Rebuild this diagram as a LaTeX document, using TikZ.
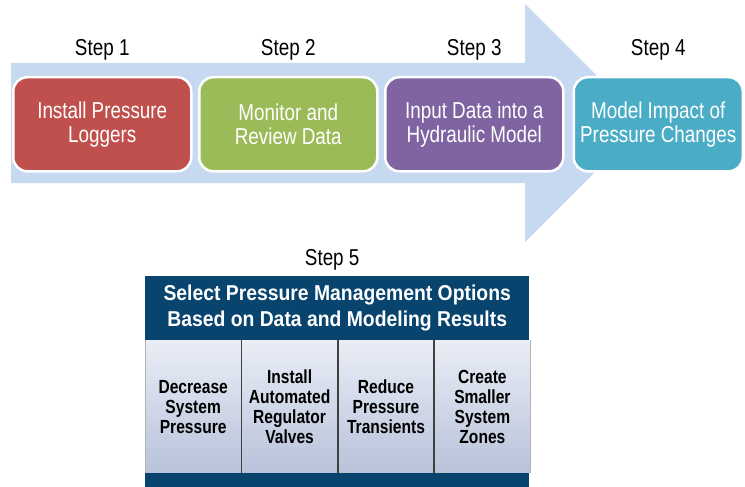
\documentclass[tikz,border=0pt]{standalone}
\usepackage{fontspec}
\setmainfont{Liberation Sans}[FakeStretch=0.82]
\newfontfamily\headfont{Liberation Sans}[FakeStretch=0.9]
\usepackage{xcolor}
\usetikzlibrary{positioning}
\definecolor{loggerred}{RGB}{192,80,77}
\definecolor{monitorgreen}{RGB}{155,187,89}
\definecolor{modelpurple}{RGB}{128,100,162}
\definecolor{impactteal}{RGB}{75,172,198}
\definecolor{arrowblue}{RGB}{198,217,241}
\definecolor{panelnavy}{RGB}{8,68,110}
\definecolor{celltop}{RGB}{233,237,246}
\definecolor{cellbottom}{RGB}{184,195,218}

\begin{document}
\begin{tikzpicture}[
    x=1pt, y=-1pt,
    node distance=5.5pt and 5.5pt,
    stepbox/.style={
        rectangle,
        rounded corners=14pt,
        draw=white,
        line width=2.5pt,
        align=center,
        text=white,
        inner sep=0pt,
        minimum width=178pt,
        minimum height=94pt,
        font=\fontsize{23}{24}\selectfont
    },
    steplabel/.style={
        inner sep=0pt,
        font=\fontsize{23}{24}\selectfont
    },
    header/.style={
        rectangle,
        fill=panelnavy,
        text=white,
        align=center,
        inner sep=0pt,
        minimum width=384pt,
        minimum height=64pt,
        font=\headfont\bfseries\fontsize{21.5}{26}\selectfont
    },
    cell/.style={
        rectangle,
        top color=celltop,
        bottom color=cellbottom,
        align=center,
        inner sep=0pt,
        minimum width=96pt,
        minimum height=132pt,
        font=\bfseries\fontsize{19}{20}\selectfont
    },
    band/.style={
        rectangle,
        fill=panelnavy,
        inner sep=0pt,
        minimum width=384pt,
        minimum height=16pt
    },
    divider/.style={line width=1.6pt, color=black!75}
]
\useasboundingbox (0,0) rectangle (745,487);

% big arrow behind the steps
\fill[arrowblue] (11,63) -- (525,63) -- (525,4) -- (644,123) -- (525,242)
    -- (525,183) -- (11,183) -- cycle;

% top row
\node[stepbox, fill=loggerred, anchor=north west] (s1) at (12,76) {Install Pressure\\Loggers};
\node[stepbox, fill=monitorgreen, right=of s1] (s2) {Monitor and\\Review Data};
\node[stepbox, fill=modelpurple, right=of s2] (s3) {Input Data into a\\Hydraulic Model};
\node[stepbox, fill=impactteal, right=8pt of s3, minimum width=169pt] (s4) {Model Impact of\\Pressure Changes};
\node[steplabel, above=16pt of s1] (l1) {Step 1};
\node[steplabel, above=16pt of s2] (l2) {Step 2};
\node[steplabel, above=16pt of s3] (l3) {Step 3};
\node[steplabel, above=16pt of s4] (l4) {Step 4};

% step 5 panel
\node[header, anchor=north west] (hd) at (145,276) {Select Pressure Management Options\\Based on Data and Modeling Results};
\node[steplabel, above=6pt of hd, xshift=-5pt] (l5) {Step 5};
\node[cell, anchor=north west] (c1) at (hd.south west) {Decrease\\System\\Pressure};
\node[cell, right=0pt of c1] (c2) {Install\\Automated\\Regulator\\Valves};
\node[cell, right=0pt of c2] (c3) {Reduce\\Pressure\\Transients};
\node[cell, right=0pt of c3] (c4) {Create\\Smaller\\System\\Zones};
\node[band, anchor=north west] (bt) at (c1.south west) {};
\draw[black!30, line width=0.6pt] (c1.north west) -- (c1.south west);
\draw[black!30, line width=0.6pt] (c4.north east) -- (c4.south east);
\draw[divider] (c1.north east) -- (c1.south east);
\draw[divider] (c2.north east) -- (c2.south east);
\draw[divider] (c3.north east) -- (c3.south east);

\end{tikzpicture}
\end{document}
